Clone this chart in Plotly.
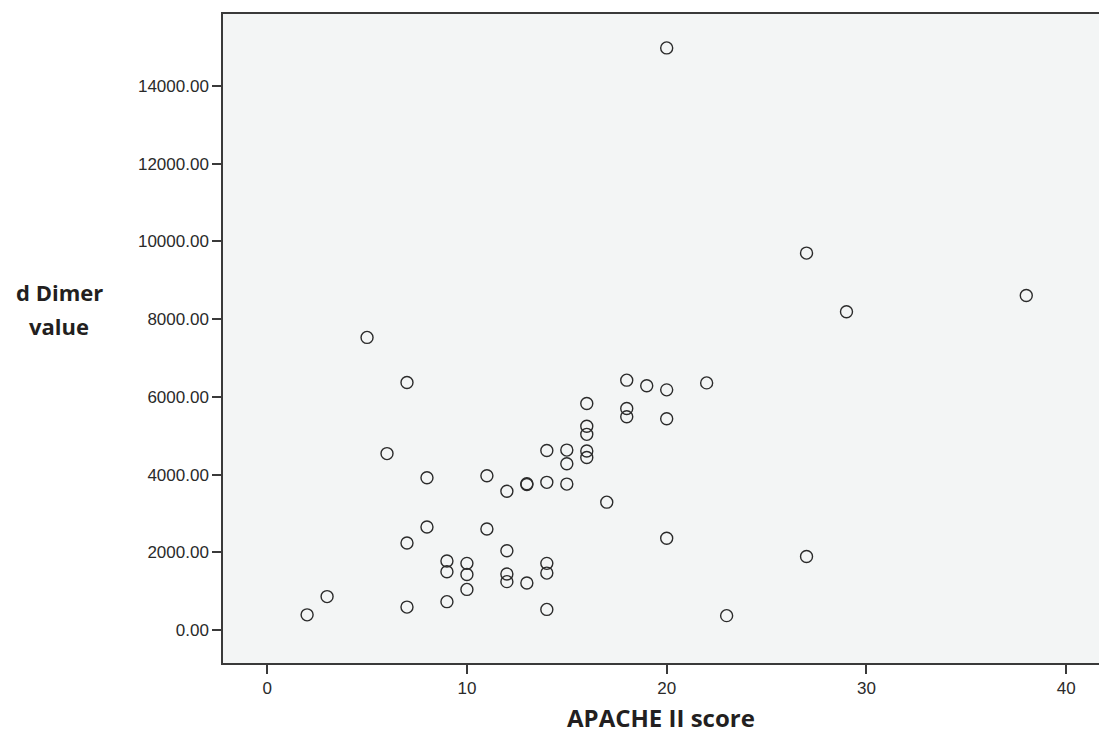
import plotly.graph_objects as go

# APACHE II score (x) and D-dimer value (y)
apache = [2, 3, 5, 6, 7, 7, 7, 8, 8, 9, 9, 9, 10, 10, 10, 11, 11, 12, 12, 12, 12,
          13, 13, 13, 14, 14, 14, 14, 14, 15, 15, 15, 16, 16, 16, 16, 16, 17,
          18, 18, 18, 19, 20, 20, 20, 20, 22, 23, 27, 27, 29, 38]
ddimer = [390, 860, 7530, 4540, 6370, 2240, 590, 3920, 2650, 1775, 1500, 730,
          1715, 1430, 1045, 3970, 2600, 3570, 2040, 1440, 1245,
          3745, 3765, 1210, 4620, 3800, 1715, 1465, 530, 4630, 4280, 3755,
          5830, 5245, 5035, 4605, 4440, 3290,
          6430, 5700, 5490, 6285, 14980, 6180, 5435, 2360, 6360, 370,
          9700, 1890, 8190, 8610]

x_ticks = [0, 10, 20, 30, 40]
y_ticks = [0, 2000, 4000, 6000, 8000, 10000, 12000, 14000]
y_tick_labels = [f"{v:.2f}" for v in y_ticks]

fig = go.Figure()
fig.add_trace(go.Scatter(
    x=apache, y=ddimer, mode="markers",
    marker=dict(symbol="circle-open", size=12, color="#2b2b2b",
                line=dict(width=1.4, color="#2b2b2b")),
    hoverinfo="x+y", showlegend=False,
))

axis_font = dict(family="Liberation Sans, Arial", size=17, color="#2a2a2a")
title_font = dict(family="Open Sans", color="#231f20")
fig.update_layout(
    width=1099, height=734,
    margin=dict(l=223, r=0, t=14, b=71),
    paper_bgcolor="white",
    plot_bgcolor="#f3f5f5",
    xaxis=dict(
        range=[-2.21, 41.64], tickvals=x_ticks, ticktext=[str(v) for v in x_ticks],
        showgrid=False, zeroline=False, showline=True, linecolor="#3a3a3a",
        linewidth=1.5, mirror=True, ticks="outside", ticklen=9, tickwidth=1.5,
        tickcolor="#3a3a3a", tickfont=axis_font,
    ),
    yaxis=dict(
        range=[-849, 15853], tickvals=y_ticks, ticktext=y_tick_labels,
        showgrid=False, zeroline=False, showline=True, linecolor="#3a3a3a",
        linewidth=1.5, ticks="outside", ticklen=9, tickwidth=1.5,
        tickcolor="#3a3a3a", tickfont=axis_font,
    ),
    annotations=[
        dict(text="<b>d Dimer</b>", xref="paper", yref="paper",
             x=-0.1872, y=0.5712, xanchor="center", yanchor="middle",
             showarrow=False, font=dict(size=22, **title_font)),
        dict(text="<b>value</b>", xref="paper", yref="paper",
             x=-0.1872, y=0.5185, xanchor="center", yanchor="middle",
             showarrow=False, font=dict(size=22, **title_font)),
        dict(text="<b>APACHE II score</b>", xref="paper", yref="paper",
             x=0.5, y=-0.084, xanchor="center", yanchor="middle",
             showarrow=False, font=dict(size=24, **title_font)),
    ],
)

fig.write_html(
    "out.html",
    config={"displayModeBar": False},
    post_script="document.body.style.margin='0';document.body.style.overflow='hidden';",
)
